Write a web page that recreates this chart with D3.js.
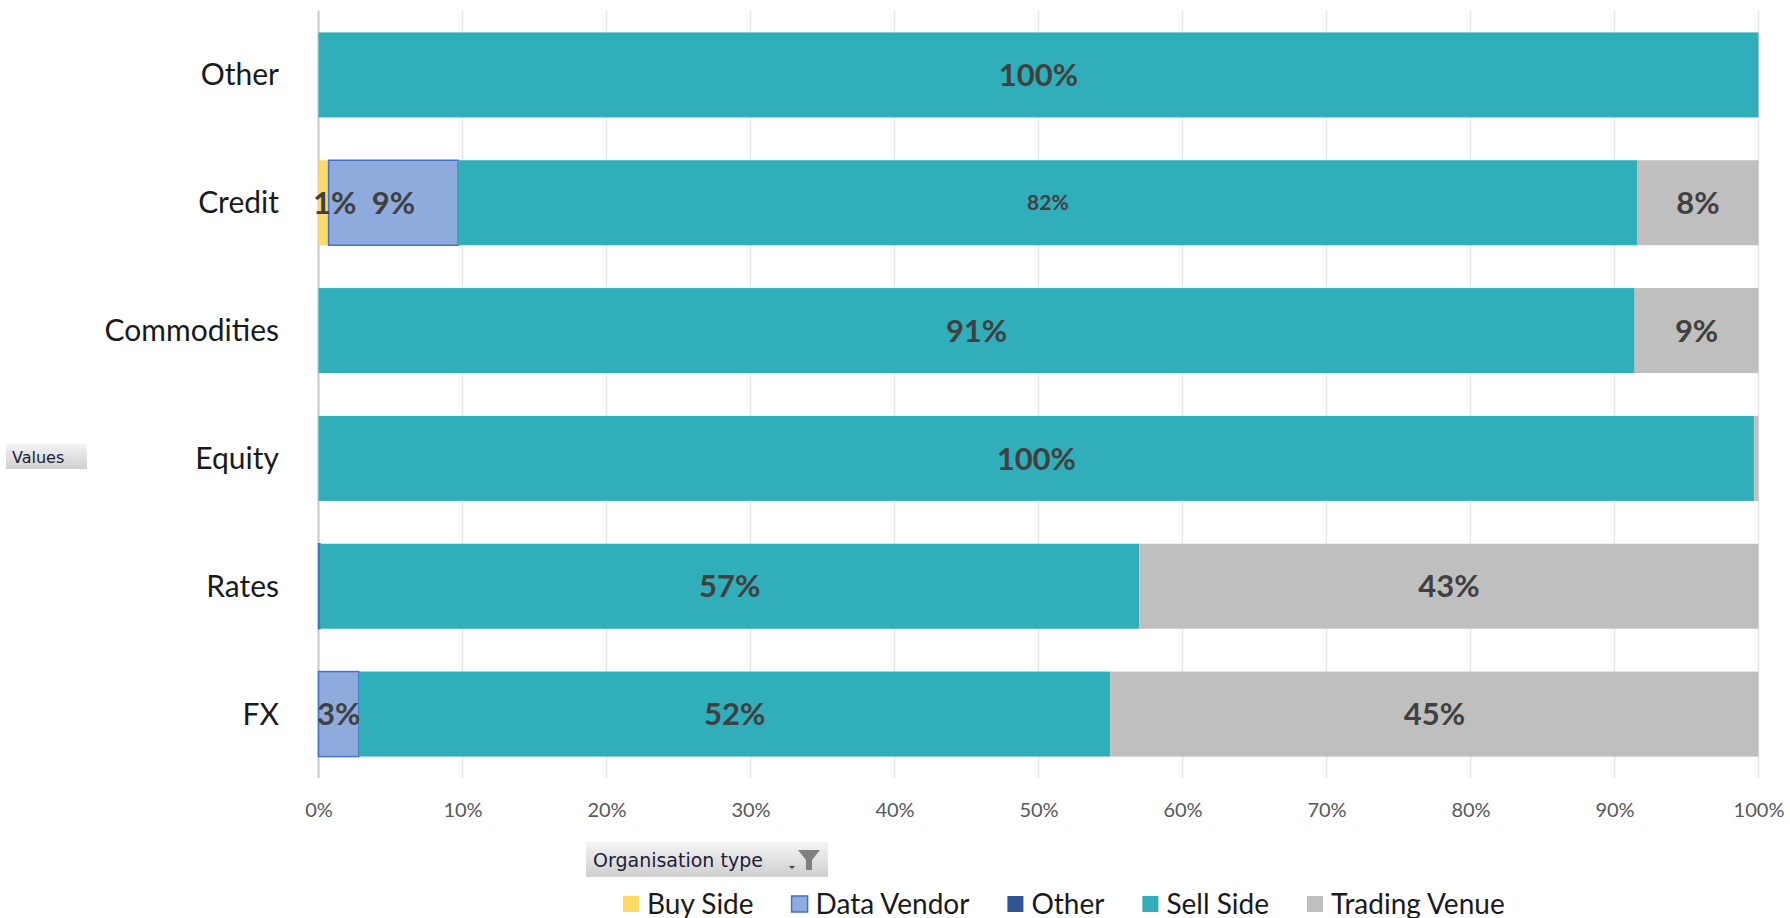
<!DOCTYPE html>
<html lang="en">
<head>
<meta charset="UTF-8">
<title>Organisation type by asset class</title>
<script src="https://cdn.jsdelivr.net/npm/d3@7"></script>
<style>
  body { margin: 0; background: #fff; }
  text { font-family: Lato, "Open Sans", sans-serif; }
</style>
</head>
<body>
<script>
// values (percent of each row)
var categories = ["Other", "Credit", "Commodities", "Equity", "Rates", "FX"];
var seriesNames = ["Buy Side", "Data Vendor", "Other", "Sell Side", "Trading Venue"];
var buySide      = [0,   0.7,  0,    0,    0,    0];
var dataVendor   = [0,   9.0,  0,    0,    0.1,  2.8];
var otherOrg     = [0,   0,    0,    0,    0,    0];
var sellSide     = [100, 81.9, 91.4, 99.7, 56.9, 52.2];
var tradingVenue = [0,   8.4,  8.6,  0.3,  43.0, 45.0];
var tickValues   = [0, 10, 20, 30, 40, 50, 60, 70, 80, 90, 100];

var colors  = ["#ffd966", "#8faadc", "#2f5597", "#30aeb9", "#bfbfbf"];
var strokes = ["none", "#4472c4", "none", "none", "none"];

var W = 1790, H = 918;
// note: "top" is taken by window.top, so plot edges get their own names
var plotLeft = 318.5, plotRight = 1758.5, plotTop = 11, plotBottom = 778;

var svg = d3.select("body").append("svg")
    .attr("width", W)
    .attr("height", H);

// build rows for the stack
var seriesValues = [buySide, dataVendor, otherOrg, sellSide, tradingVenue];
var rows = categories.map(function(c, i) {
    var r = { cat: c };
    seriesNames.forEach(function(s, j) { r[s] = seriesValues[j][i]; });
    return r;
});
var stacked = d3.stack().keys(seriesNames)(rows);

var x = d3.scaleLinear().domain([0, 100]).range([plotLeft, plotRight]);
var y = d3.scaleBand().domain(categories).range([plotTop, plotBottom])
    .paddingInner(0.335).paddingOuter(0.1675);

// gridlines
svg.append("g").selectAll("line")
    .data(tickValues)
    .enter().append("line")
    .attr("x1", function(d) { return x(d); })
    .attr("x2", function(d) { return x(d); })
    .attr("y1", plotTop)
    .attr("y2", plotBottom)
    .attr("stroke", function(d) { return d === 0 ? "#c8c8c8" : "#e6e6e6"; })
    .attr("stroke-width", function(d) { return d === 0 ? 2 : 1.5; });

// x axis labels
var xAxis = svg.append("g")
    .attr("transform", "translate(0," + (plotBottom + 22) + ")")
    .call(d3.axisBottom(x).tickValues(tickValues).tickSize(0).tickFormat(function(d) { return d + "%"; }));
xAxis.select(".domain").remove();
xAxis.selectAll("text")
    .style("font-family", "Lato, sans-serif")
    .style("font-size", "20px")
    .attr("fill", "#595959");

// bars
var layers = svg.append("g").selectAll("g")
    .data(stacked)
    .enter().append("g")
    .attr("fill", function(d, i) { return colors[i]; })
    .attr("stroke", function(d, i) { return strokes[i]; })
    .attr("stroke-width", 1.5);

layers.selectAll("rect")
    .data(function(d) { return d; })
    .enter().append("rect")
    .attr("x", function(d) { return x(d[0]); })
    .attr("y", function(d) { return y(d.data.cat); })
    .attr("width", function(d) { return Math.max(0, x(d[1]) - x(d[0])); })
    .attr("height", y.bandwidth())
    .filter(function(d) { return d[1] - d[0] <= 0; }).remove();

// data labels
var labelData = [];
stacked.forEach(function(layer) {
    layer.forEach(function(d) {
        var v = d[1] - d[0];
        if (v >= 0.5) labelData.push({ key: layer.key, cat: d.data.cat, v: v, mid: (d[0] + d[1]) / 2 });
    });
});

svg.append("g").selectAll("text")
    .data(labelData)
    .enter().append("text")
    .attr("x", function(d) { return x(d.mid); })
    .attr("y", function(d) { return y(d.cat) + y.bandwidth() / 2; })
    .attr("dy", "0.36em")
    .attr("text-anchor", "middle")
    .attr("fill", "#404040")
    .style("font-weight", "bold")
    // Excel shrank this one label
    .style("font-size", function(d) { return (d.cat === "Credit" && d.key === "Sell Side") ? "21px" : "31px"; })
    .text(function(d) { return Math.round(d.v) + "%"; })
    .each(function() {
        // keep labels from sticking out past the left edge
        var w = this.getComputedTextLength();
        var cx = +d3.select(this).attr("x");
        if (cx - w / 2 < 313) d3.select(this).attr("x", 313 + w / 2);
    });

// category labels
svg.append("g").selectAll("text")
    .data(categories)
    .enter().append("text")
    .attr("x", 279)
    .attr("y", function(d) { return y(d) + y.bandwidth() / 2; })
    .attr("dy", "0.35em")
    .attr("text-anchor", "end")
    .attr("fill", "#1a1a1a")
    .style("font-size", "30px")
    .text(function(d) { return d; });

// pivot field buttons
var grad = svg.append("defs").append("linearGradient")
    .attr("id", "btn").attr("x1", 0).attr("y1", 0).attr("x2", 0).attr("y2", 1);
grad.append("stop").attr("offset", "0%").attr("stop-color", "#f4f4f4");
grad.append("stop").attr("offset", "100%").attr("stop-color", "#cfcfcf");

svg.append("rect")
    .attr("x", 6).attr("y", 444).attr("width", 81).attr("height", 25)
    .attr("fill", "url(#btn)");
svg.append("text")
    .attr("x", 12).attr("y", 463)
    .attr("fill", "#20203a")
    .style("font-family", "'DejaVu Sans', sans-serif")
    .style("font-size", "16px")
    .text("Values");

svg.append("rect")
    .attr("x", 586).attr("y", 842).attr("width", 242).attr("height", 35)
    .attr("fill", "url(#btn)");
svg.append("text")
    .attr("x", 593).attr("y", 867)
    .attr("fill", "#20203a")
    .style("font-family", "'DejaVu Sans', sans-serif")
    .style("font-size", "19px")
    .text("Organisation type");
// dropdown arrow and funnel
svg.append("path")
    .attr("d", "M789,866 L795,866 L792,869 Z")
    .attr("fill", "#404040");
svg.append("path")
    .attr("d", "M798,850 L820,850 L812,860 L812,870 L806,870 L806,860 Z")
    .attr("fill", "#7f7f7f");

// legend
var legend = svg.append("g");
var lx = 623;
seriesNames.forEach(function(s, i) {
    legend.append("rect")
        .attr("x", lx).attr("y", 896)
        .attr("width", 16).attr("height", 16)
        .attr("fill", colors[i])
        .attr("stroke", strokes[i])
        .attr("stroke-width", 1.5);
    var t = legend.append("text")
        .attr("x", lx + 24).attr("y", 904)
        .attr("dy", "0.35em")
        .attr("fill", "#1a1a1a")
        .style("font-size", "28px")
        .text(s);
    lx += 24 + t.node().getComputedTextLength() + 38;
});
</script>
</body>
</html>
